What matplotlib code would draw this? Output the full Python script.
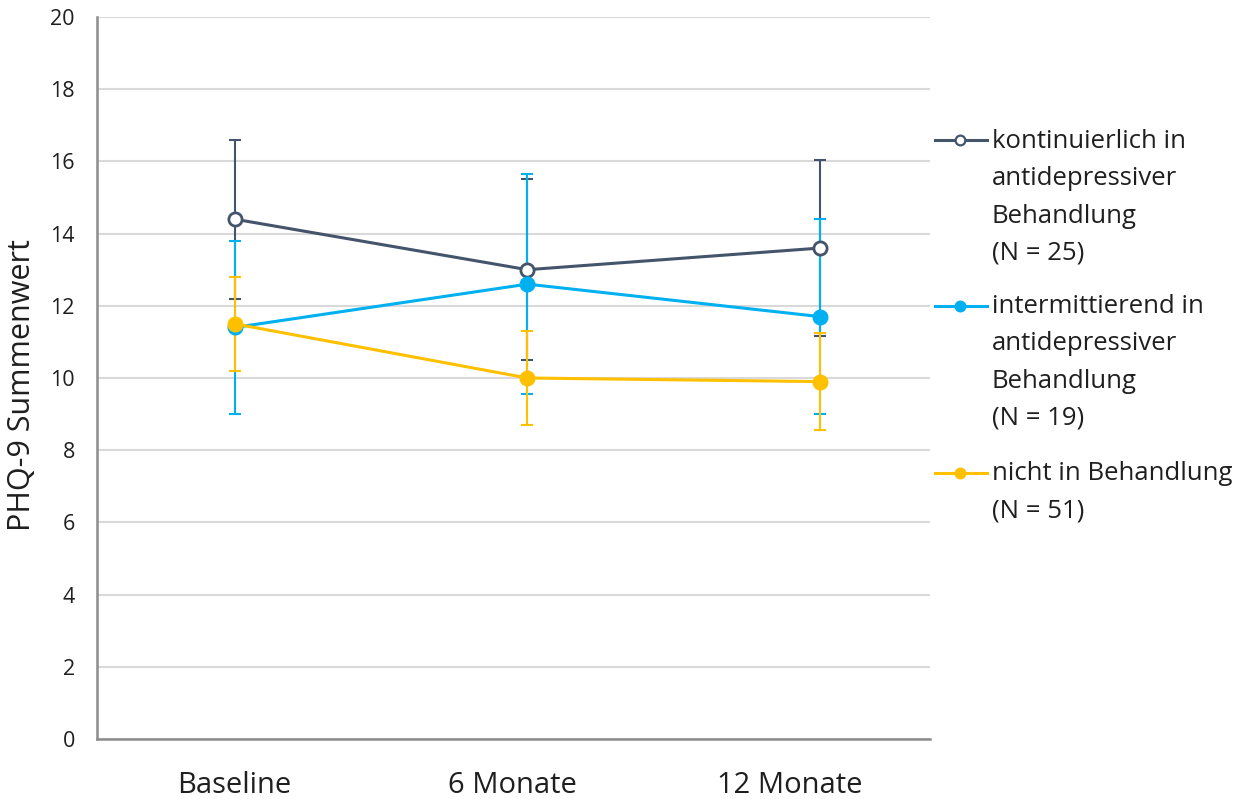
import matplotlib
matplotlib.use("Agg")
import matplotlib.pyplot as plt
import matplotlib.transforms as mtransforms
from matplotlib.lines import Line2D

zeitpunkte = ["Baseline", "6 Monate", "12 Monate"]

kontinuierlich = [14.4, 13.0, 13.6]
kontinuierlich_sd = [2.2, 2.5, 2.45]

intermittierend = [11.4, 12.6, 11.7]
intermittierend_sd = [2.4, 3.05, 2.7]

nicht_behandelt = [11.5, 10.0, 9.9]
nicht_behandelt_sd = [1.3, 1.3, 1.35]

labels = [
    ["kontinuierlich in", "antidepressiver", "Behandlung", "(N = 25)"],
    ["intermittierend in", "antidepressiver", "Behandlung", "(N = 19)"],
    ["nicht in Behandlung", "(N = 51)"],
]
farben = ["#44546A", "#00B0F0", "#FFC000"]
schrift = "Open Sans"
textfarbe = "#1F1F1F"

W, H = 1244, 799
fig = plt.figure(figsize=(W / 100, H / 100), dpi=100)
ax = fig.add_axes([97 / W, 1 - 739 / H, (930 - 97) / W, (739 - 17) / H])

x = list(range(len(zeitpunkte)))
serien = [
    (kontinuierlich, kontinuierlich_sd),
    (intermittierend, intermittierend_sd),
    (nicht_behandelt, nicht_behandelt_sd),
]

for i, ((werte, sd), farbe) in enumerate(zip(serien, farben)):
    ax.errorbar(x, werte, yerr=sd, fmt="none", ecolor=farbe,
                elinewidth=1.5, capsize=4, capthick=1.5, zorder=2 + i * 0.1)

for i, ((werte, sd), farbe) in enumerate(zip(serien, farben)):
    face = "white" if i == 0 else farbe
    ax.plot(x, werte, color=farbe, linewidth=2.2, marker="o", markersize=9.5,
            markerfacecolor=face, markeredgecolor=farbe, markeredgewidth=2,
            zorder=4 + i * 0.1)

ax.set_xlim(-0.47, 2.375)
ax.set_ylim(0, 20)
ax.set_yticks(range(0, 21, 2))
ax.set_xticks(x)
ax.set_xticklabels([])
# Beschriftungen der Zeitpunkte sitzen im Original leicht links versetzt
trans = mtransforms.blended_transform_factory(ax.transData, ax.transAxes)
for k, name in enumerate(zeitpunkte):
    versatz = mtransforms.ScaledTranslation(-0.15 * k, -0.54, fig.dpi_scale_trans)
    ax.text(k, 0, name, transform=trans + versatz, ha="center", va="baseline",
            fontsize=21, family=schrift, color=textfarbe, clip_on=False)
for lab in ax.get_yticklabels():
    lab.set_fontsize(15.5)
    lab.set_family(schrift)
    lab.set_color(textfarbe)
ax.tick_params(axis="both", length=0)
ax.tick_params(axis="y", pad=16)
ax.grid(axis="y", color="#D9D9D9", linewidth=1.5)
ax.set_axisbelow(True)
for s in ["top", "right"]:
    ax.spines[s].set_visible(False)
for s in ["left", "bottom"]:
    ax.spines[s].set_color("#8C8C8C")
    ax.spines[s].set_linewidth(1.8)

fig.text(22 / W, 1 - 385 / H, "PHQ-9 Summenwert", rotation=90, ha="center",
         va="center", fontsize=22, family=schrift, color=textfarbe)

# Legende rechts, Symbol auf Höhe der ersten Zeile
handle_y = [140, 306, 473]
erste_grundlinie = [148, 313, 480]
zeilenabstand = 37.3
for i, (zeilen, farbe) in enumerate(zip(labels, farben)):
    yf = 1 - handle_y[i] / H
    face = "white" if i == 0 else farbe
    fig.add_artist(Line2D([935 / W, 987 / W], [yf, yf], color=farbe, linewidth=2.2,
                          transform=fig.transFigure))
    fig.add_artist(Line2D([960 / W], [yf], color=farbe, marker="o", markersize=7,
                          markerfacecolor=face, markeredgecolor=farbe,
                          markeredgewidth=1.6, transform=fig.transFigure))
    for j, zeile in enumerate(zeilen):
        yb = erste_grundlinie[i] + j * zeilenabstand
        fig.text(992 / W, 1 - yb / H, zeile, fontsize=18.5, family=schrift,
                 color=textfarbe, va="baseline", ha="left")

fig.savefig("out.png", dpi=100)
